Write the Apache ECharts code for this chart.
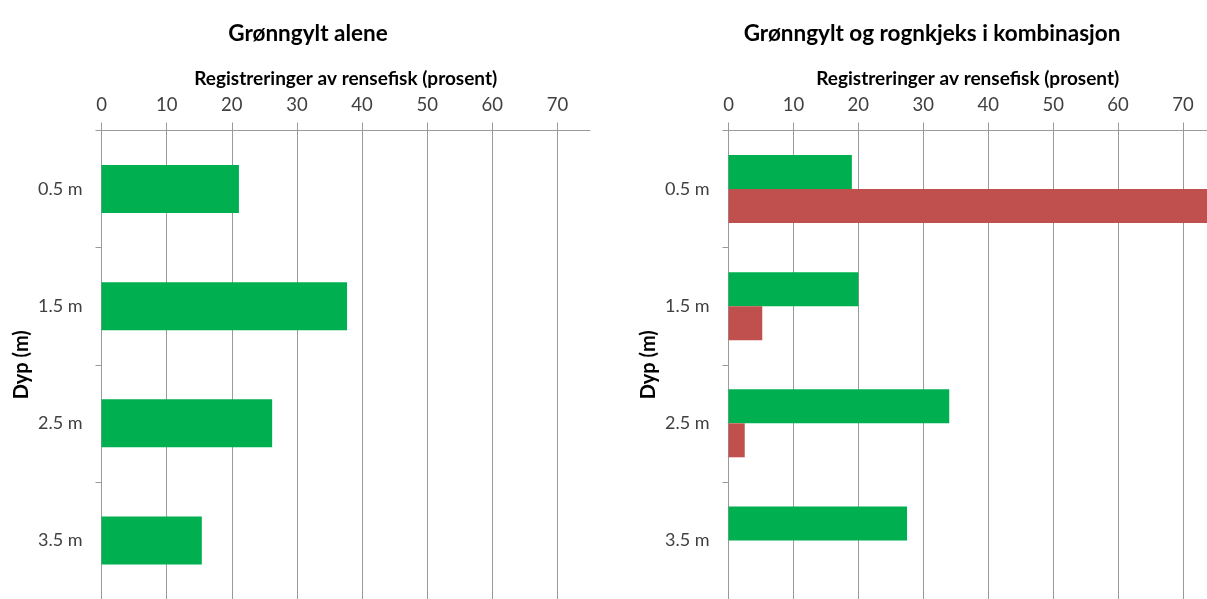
<!DOCTYPE html>
<html>
<head>
<meta charset="utf-8">
<script src="https://cdn.jsdelivr.net/npm/echarts@6/dist/echarts.min.js"></script>
<style>html,body{margin:0;padding:0;background:#fff}#c{width:1207px;height:599px}</style>
</head>
<body>
<div id="c"></div>
<script>
const depths = ['0.5 m', '1.5 m', '2.5 m', '3.5 m'];
const xTicks = [0, 10, 20, 30, 40, 50, 60, 70];
const gronngyltAlene = [21.1, 37.7, 26.2, 15.4];
const gronngyltKomb = [19.0, 20.0, 34.0, 27.5];
const rognkjeksKomb = [75.0, 5.2, 2.5, 0];
const titleLeft = 'Grønngylt alene';
const titleRight = 'Grønngylt og rognkjeks i kombinasjon';
const xName = 'Registreringer av rensefisk (prosent)';
const yName = 'Dyp (m)';

const FONT = 'Lato';
const GREEN = '#00B050';
const RED = '#C0504D';
const GRID = '#9a9a9a';

function xAxisFor(idx, maxV) {
  return {
    type: 'value', gridIndex: idx, position: 'top',
    min: 0, max: maxV, interval: 10,
    name: xName, nameLocation: 'middle', nameGap: 42,
    nameTextStyle: { fontFamily: FONT, fontSize: 19, fontWeight: 'bold', color: '#000' },
    axisLine: { show: true, lineStyle: { color: GRID, width: 1 } },
    axisTick: { show: true, inside: false, length: 8, lineStyle: { color: GRID } },
    axisLabel: { show: true, margin: 16, fontFamily: FONT, fontSize: 18.5, color: '#404040', showMaxLabel: false,
      formatter: v => (xTicks.indexOf(v) >= 0 ? String(v) : '') },
    splitLine: { show: true, showMaxLine: false, lineStyle: { color: GRID, width: 1 } }
  };
}
function yAxisFor(idx) {
  return {
    type: 'category', gridIndex: idx, data: depths, inverse: true,
    name: yName, nameLocation: 'middle', nameGap: 70,
    nameTextStyle: { fontFamily: FONT, fontSize: 20, fontWeight: 'bold', color: '#000' },
    axisLine: { show: true, lineStyle: { color: GRID, width: 1 } },
    axisTick: { show: true, inside: false, length: 6, lineStyle: { color: GRID } },
    axisLabel: { margin: 19, fontFamily: FONT, fontSize: 18, color: '#404040' },
    splitLine: { show: false }
  };
}

const chart = echarts.init(document.getElementById('c'), null, { renderer: 'canvas' });
chart.setOption({
  animation: false,
  backgroundColor: '#fff',
  title: [
    { text: titleLeft, left: 303, top: 17, textAlign: 'center',
      textStyle: { fontFamily: FONT, fontSize: 22.5, fontWeight: 'bold', color: '#000' } },
    { text: titleRight, left: 927, top: 17, textAlign: 'center',
      textStyle: { fontFamily: FONT, fontSize: 22.5, fontWeight: 'bold', color: '#000' } }
  ],
  grid: [
    { left: 101.5, top: 130.5, width: 488.5, height: 474, containLabel: false },
    { left: 728.5, top: 130.5, width: 478.5, height: 474, containLabel: false }
  ],
  xAxis: [xAxisFor(0, 75), xAxisFor(1, 73.7)],
  yAxis: [yAxisFor(0), yAxisFor(1)],
  series: [
    { type: 'bar', xAxisIndex: 0, yAxisIndex: 0, data: gronngyltAlene, barWidth: 48,
      itemStyle: { color: GREEN } },
    { type: 'bar', xAxisIndex: 1, yAxisIndex: 1, data: gronngyltKomb, barWidth: 34, barGap: '0%',
      itemStyle: { color: GREEN } },
    { type: 'bar', xAxisIndex: 1, yAxisIndex: 1, data: rognkjeksKomb, barWidth: 34, barGap: '0%', clip: true,
      itemStyle: { color: RED } }
  ]
});
</script>
</body>
</html>
